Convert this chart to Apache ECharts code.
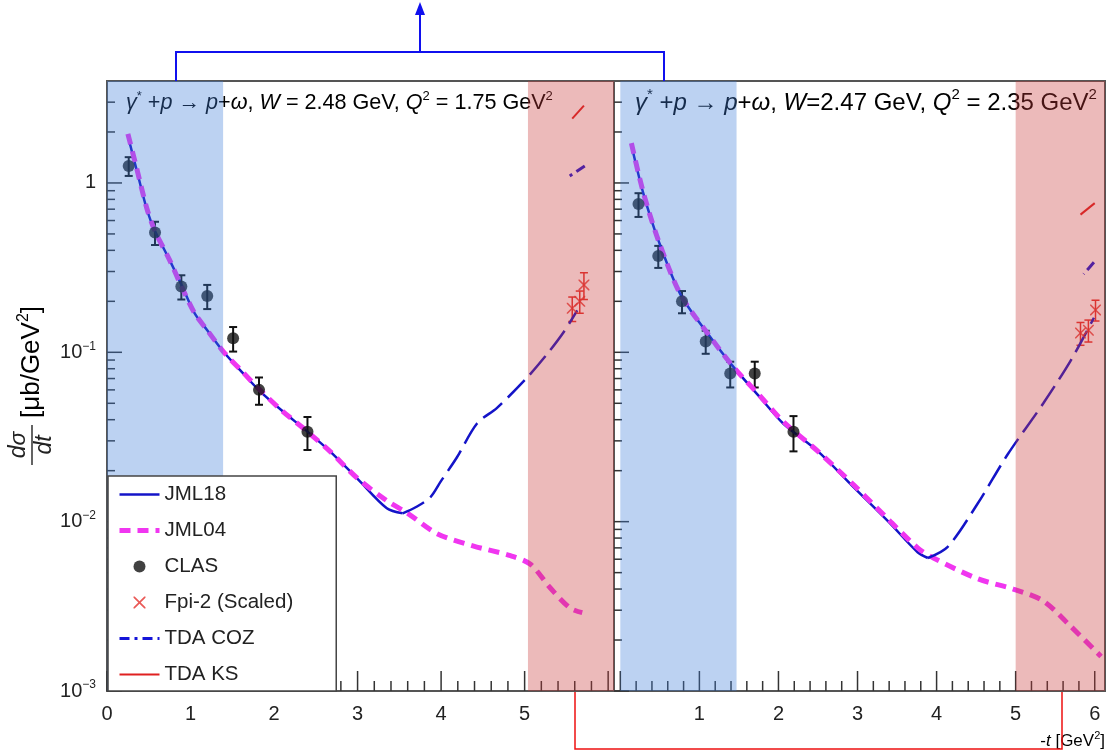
<!doctype html>
<html>
<head>
<meta charset="UTF-8">
<script src="https://cdn.jsdelivr.net/npm/echarts@6.0.0/dist/echarts.min.js"></script>
<style>
html, body { margin: 0; padding: 0; background: #fff; }
#main { width: 1108px; height: 754px; }
</style>
</head>
<body>
<div id="main"></div>
<script type="text/javascript">
// ---- values ----
// left panel: W = 2.48 GeV, Q2 = 1.75 GeV2
var clasLX   = [0.26, 0.575, 0.89, 1.20, 1.51, 1.82, 2.40];
var clasLY   = [1.26, 0.51, 0.245, 0.215, 0.121, 0.060, 0.034];
var clasLErr = [0.16, 0.08, 0.04, 0.035, 0.02, 0.011, 0.0075];

var jml18LX  = [0.25, 0.35, 0.48, 0.575, 0.75, 0.9, 1.05, 1.2, 1.4, 1.63, 1.83, 2.1, 2.4, 2.67, 3.0, 3.35, 3.54];
var jml18LY  = [1.9, 1.22, 0.69, 0.52, 0.35, 0.245, 0.17, 0.135, 0.10, 0.075, 0.059, 0.045, 0.034, 0.026, 0.0179, 0.012, 0.0112];
var jml18LX2 = [3.54, 3.7, 3.87, 4.0, 4.19, 4.43, 4.67, 5.03, 5.25, 5.46, 5.63];
var jml18LY2 = [0.0112, 0.0122, 0.0139, 0.0174, 0.024, 0.038, 0.047, 0.071, 0.095, 0.13, 0.177];

var jml04LX  = [0.25, 0.35, 0.48, 0.575, 0.75, 0.9, 1.05, 1.2, 1.4, 1.63, 1.83, 2.1, 2.4, 2.67, 3.0, 3.35, 3.6, 3.95, 4.38, 4.83, 5.07, 5.3, 5.54, 5.69];
var jml04LY  = [1.95, 1.25, 0.70, 0.52, 0.35, 0.24, 0.17, 0.135, 0.10, 0.076, 0.060, 0.045, 0.034, 0.026, 0.018, 0.0133, 0.0112, 0.0085, 0.0072, 0.0063, 0.0056, 0.0041, 0.0031, 0.0029];

var fpiLX    = [5.57, 5.66, 5.71];
var fpiLY    = [0.182, 0.20, 0.25];
var fpiLErr  = [0.03, 0.03, 0.045];

var cozLX    = [5.72, 5.54];
var cozLY    = [1.26, 1.10];
var ksLX     = [5.57, 5.71];
var ksLY     = [2.4, 2.86];

// right panel: W = 2.47 GeV, Q2 = 2.35 GeV2
var clasRX   = [0.23, 0.48, 0.78, 1.08, 1.39, 1.70, 2.19];
var clasRY   = [0.75, 0.37, 0.20, 0.116, 0.075, 0.075, 0.034];
var clasRErr = [0.12, 0.055, 0.03, 0.018, 0.013, 0.013, 0.008];

var jml18RX  = [0.14, 0.29, 0.48, 0.76, 1.10, 1.43, 1.77, 2.06, 2.5, 2.95, 3.4, 3.76, 3.89];
var jml18RY  = [1.68, 0.87, 0.46, 0.22, 0.13, 0.082, 0.054, 0.038, 0.026, 0.016, 0.0099, 0.0066, 0.0061];
var jml18RX2 = [3.89, 4.14, 4.52, 4.90, 5.35, 5.70, 5.99];
var jml18RY2 = [0.0061, 0.0071, 0.0128, 0.025, 0.05, 0.09, 0.16];

var jml04RX  = [0.14, 0.29, 0.48, 0.76, 1.10, 1.43, 1.77, 2.06, 2.5, 2.95, 3.4, 3.76, 3.96, 4.52, 4.97, 5.35, 5.70, 6.08];
var jml04RY  = [1.72, 0.88, 0.46, 0.22, 0.13, 0.082, 0.055, 0.039, 0.026, 0.0165, 0.0102, 0.0070, 0.0061, 0.0046, 0.0040, 0.0034, 0.0024, 0.0016];

var fpiRX    = [5.82, 5.92, 6.01];
var fpiRY    = [0.13, 0.135, 0.178];
var fpiRErr  = [0.02, 0.02, 0.025];

var cozRX    = [5.99, 5.86];
var cozRY    = [0.34, 0.29];
var ksRX     = [5.82, 6.0];
var ksRY     = [0.65, 0.76];

// shaded t ranges [from, to, colour index]
var bandsL = [[0, 1.39, 0], [5.04, 6.07, 1]];
var bandsR = [[0, 1.47, 0], [5.0, 6.13, 1]];

// axes
var xLabelsL = [0, 1, 2, 3, 4, 5];
var xLabelsR = [1, 2, 3, 4, 5, 6];
var Y_MIN = 0.001, Y_MAX = 4;
var yMajor = [0.001, 0.01, 0.1, 1];

var legendNames = ['JML18', 'JML04', 'CLAS', 'Fpi-2 (Scaled)', 'TDA COZ', 'TDA KS'];

var FONT = 'Liberation Sans';
var bandColors = ['rgba(63,126,218,0.35)', 'rgba(200,57,57,0.35)'];
var crossPath = 'path://M0,0L2,0L10,8L18,0L20,0L20,2L12,10L20,18L20,20L18,20L10,12L2,20L0,20L0,18L8,10L0,2Z';

var styles = {
    'JML18':   { color: '#1414c8', width: 2.5, type: 'solid' },
    'JML04':   { color: '#f036f0', width: 5, type: [11, 7] },
    'TDA COZ': { color: '#1414d8', width: 3, type: [10, 5, 3, 5] },
    'TDA KS':  { color: '#e02020', width: 2, type: 'solid' }
};

function zip(xs, ys, es) {
    return xs.map(function (x, i) { return es ? [x, ys[i], es[i]] : [x, ys[i]]; });
}

// tick lists (major decades + 2..9 minors, x every 0.2)
var yMinor = [];
for (var d = -3; d <= 0; d++) {
    for (var m = 2; m <= 9; m++) {
        var v = m * Math.pow(10, d);
        if (v < Y_MAX) yMinor.push(v);
    }
}
function xTicks(maxX) {
    var out = [];
    for (var k = 0; k * 0.2 <= maxX + 1e-9; k++) {
        out.push([k * 0.2, Y_MIN, (k % 5 === 0) ? 20 : 10]);
    }
    return out;
}
function yTicks(x0) {
    return yMajor.map(function (v) { return [x0, v, 15]; })
        .concat(yMinor.map(function (v) { return [x0, v, 8]; }));
}

function tickSeries(idx, data, vertical) {
    return {
        type: 'custom', xAxisIndex: idx, yAxisIndex: idx, silent: true, z: 1,
        data: data,
        renderItem: function (params, api) {
            var p = api.coord([api.value(0), api.value(1)]);
            var len = api.value(2);
            var shape = vertical
                ? { x1: p[0], y1: p[1], x2: p[0], y2: p[1] - len }
                : { x1: p[0], y1: p[1], x2: p[0] + len, y2: p[1] };
            return { type: 'line', shape: shape, style: { stroke: '#333', lineWidth: 1.5 } };
        }
    };
}

function bandSeries(idx, data) {
    return {
        type: 'custom', xAxisIndex: idx, yAxisIndex: idx, silent: true, z: 5,
        data: data,
        renderItem: function (params, api) {
            var a = api.coord([api.value(0), Y_MAX]);
            var b = api.coord([api.value(1), Y_MIN]);
            return {
                type: 'rect',
                shape: { x: a[0], y: a[1], width: b[0] - a[0], height: b[1] - a[1] },
                style: { fill: bandColors[api.value(2)] }
            };
        }
    };
}

function errSeries(idx, data, color, lw) {
    return {
        type: 'custom', xAxisIndex: idx, yAxisIndex: idx, silent: true, z: 2,
        data: data,
        renderItem: function (params, api) {
            var x = api.value(0), y = api.value(1), e = api.value(2);
            var lo = api.coord([x, y - e]), hi = api.coord([x, y + e]);
            var st = { stroke: color, lineWidth: lw };
            return {
                type: 'group', children: [
                    { type: 'line', shape: { x1: lo[0], y1: lo[1], x2: hi[0], y2: hi[1] }, style: st },
                    { type: 'line', shape: { x1: lo[0] - 4, y1: lo[1], x2: lo[0] + 4, y2: lo[1] }, style: st },
                    { type: 'line', shape: { x1: hi[0] - 4, y1: hi[1], x2: hi[0] + 4, y2: hi[1] }, style: st }
                ]
            };
        }
    };
}

function lineSeries(name, idx, data, dashOverride) {
    var s = styles[name];
    return {
        name: name, type: 'line', xAxisIndex: idx, yAxisIndex: idx,
        data: data, showSymbol: false, symbol: 'none', smooth: 0.3, z: 2,
        lineStyle: { color: s.color, width: s.width, type: dashOverride || s.type },
        itemStyle: { color: s.color }
    };
}

function panelSeries(idx, d) {
    return [
        lineSeries('JML18', idx, d.j18),
        lineSeries('JML04', idx, d.j04),
        {
            name: 'CLAS', type: 'scatter', xAxisIndex: idx, yAxisIndex: idx, z: 3,
            data: d.clas, symbol: 'circle', symbolSize: 12, itemStyle: { color: '#111' }
        },
        {
            name: 'Fpi-2 (Scaled)', type: 'scatter', xAxisIndex: idx, yAxisIndex: idx, z: 3,
            data: d.fpi, symbol: crossPath, symbolSize: 11, itemStyle: { color: '#e5302c' }
        },
        lineSeries('TDA COZ', idx, d.coz),
        lineSeries('TDA KS', idx, d.ks),
        lineSeries('JML18', idx, d.j18b, [24, 8]),
        errSeries(idx, d.clasErr, '#111', 2),
        errSeries(idx, d.fpiErr, '#e5302c', 1.5),
        bandSeries(idx, d.bands)
    ];
}

var leftData = {
    j18: zip(jml18LX, jml18LY), j18b: zip(jml18LX2, jml18LY2), j04: zip(jml04LX, jml04LY),
    clas: zip(clasLX, clasLY), clasErr: zip(clasLX, clasLY, clasLErr),
    fpi: zip(fpiLX, fpiLY), fpiErr: zip(fpiLX, fpiLY, fpiLErr),
    coz: zip(cozLX, cozLY), ks: zip(ksLX, ksLY), bands: bandsL
};
var rightData = {
    j18: zip(jml18RX, jml18RY), j18b: zip(jml18RX2, jml18RY2), j04: zip(jml04RX, jml04RY),
    clas: zip(clasRX, clasRY), clasErr: zip(clasRX, clasRY, clasRErr),
    fpi: zip(fpiRX, fpiRY), fpiErr: zip(fpiRX, fpiRY, fpiRErr),
    coz: zip(cozRX, cozRY), ks: zip(ksRX, ksRY), bands: bandsR
};

function richSet(size) {
    var base = { fontFamily: FONT, fontSize: size, color: '#222' };
    var small = Math.round(size * 0.62);
    return {
        n: base,
        i: { fontFamily: FONT, fontSize: size, color: '#222', fontStyle: 'italic' },
        b: base,
        s: { fontFamily: FONT, fontSize: small, color: '#222', padding: [0, 0, Math.round(size * 0.6), 0] },
        sup: { fontFamily: FONT, fontSize: small, color: '#222', padding: [0, 0, Math.round(size * 0.65), 0] }
    };
}
var richTick = richSet(20);
var richTitleL = richSet(21.6);
var richTitleR = richSet(24);
var richAxis = richSet(26);
var richX = richSet(17);

function yLabel(v) {
    var lg = Math.log10(v), e = Math.round(lg);
    if (Math.abs(lg - e) > 1e-6) return '';
    if (e === 0) return '{b|1}';
    return '{b|10}{s|\u2212' + (-e) + '}';
}

function xAxisCfg(idx, min, max, labels) {
    return {
        gridIndex: idx, type: 'value', min: min, max: max,
        axisLine: { show: false }, axisTick: { show: false }, splitLine: { show: false },
        axisLabel: { customValues: labels, margin: 13, fontFamily: FONT, fontSize: 20, color: '#222' }
    };
}
function yAxisCfg(idx, show) {
    return {
        gridIndex: idx, type: 'log', logBase: 10, min: Y_MIN, max: Y_MAX,
        axisLine: { show: false }, axisTick: { show: false }, splitLine: { show: false },
        axisLabel: { show: show, margin: 11, formatter: yLabel, rich: richTick, fontFamily: FONT, fontSize: 20, color: '#222' }
    };
}

var titleL = '{i|\u03b3}{sup|*}{n| +}{i|p}{n| \u2192 }{i|p}{n|+}{i|\u03c9}{n|, }{i|W}{n| = 2.48 GeV, }{i|Q}{sup|2}{n| = 1.75 GeV}{sup|2}';
var titleR = '{i|\u03b3}{sup|*}{n| +}{i|p}{n| \u2192 }{i|p}{n|+}{i|\u03c9}{n|, }{i|W}{n|=2.47 GeV, }{i|Q}{sup|2}{n| = 2.35 GeV}{sup|2}';

var myChart = echarts.init(document.getElementById('main'));
var option = {
    animation: false,
    backgroundColor: '#fff',
    grid: [
        { left: 107, top: 81, width: 507, height: 610, show: true, borderColor: '#555', borderWidth: 2 },
        { left: 614, top: 81, width: 491, height: 610, show: true, borderColor: '#555', borderWidth: 2 }
    ],
    xAxis: [
        xAxisCfg(0, 0, 6.07, xLabelsL),
        xAxisCfg(1, -0.08, 6.13, xLabelsR)
    ],
    yAxis: [yAxisCfg(0, true), yAxisCfg(1, false)],
    legend: {
        data: legendNames.map(function (n) {
            var item = { name: n };
            if (styles[n]) {
                item.itemStyle = { opacity: 0 };
                item.lineStyle = { width: styles[n].width, type: styles[n].type, color: styles[n].color };
            }
            return item;
        }),
        orient: 'vertical', left: 108, top: 476,
        padding: [8, 43, 6, 9], itemWidth: 40, itemHeight: 12, itemGap: 15,
        backgroundColor: '#fff', borderColor: '#444', borderWidth: 1.5,
        selectedMode: false, z: 10,
        textStyle: { fontFamily: FONT, fontSize: 20.5, color: '#222' }
    },
    series: [].concat(
        panelSeries(0, leftData),
        panelSeries(1, rightData),
        [tickSeries(0, yTicks(0), false), tickSeries(1, yTicks(-0.08), false),
         tickSeries(0, xTicks(6.07), true), tickSeries(1, xTicks(6.13), true)]
    ),
    graphic: [
        { type: 'text', x: 126, y: 103, z: 1, style: { text: titleL, rich: richTitleL, verticalAlign: 'middle' } },
        { type: 'text', x: 635, y: 103, z: 1, style: { text: titleR, rich: richTitleR, verticalAlign: 'middle' } },
        { type: 'text', x: 1105, y: 741, z: 1, style: { text: '{n|-}{i|t}{n| [GeV}{sup|2}{n|]}', rich: richX, align: 'right', verticalAlign: 'middle' } },
        {
            type: 'group', x: 31, y: 395, rotation: Math.PI / 2, z: 1,
            children: [
                { type: 'text', x: -50, y: -12, style: { text: 'd\u03c3', fontFamily: FONT, fontSize: 23, fontStyle: 'italic', fill: '#222', align: 'center', verticalAlign: 'middle' } },
                { type: 'line', shape: { x1: -70, y1: 1, x2: -30, y2: 1 }, style: { stroke: '#222', lineWidth: 1.4 } },
                { type: 'text', x: -50, y: 14, style: { text: 'dt', fontFamily: FONT, fontSize: 23, fontStyle: 'italic', fill: '#222', align: 'center', verticalAlign: 'middle' } },
                { type: 'text', x: -23, y: 1, style: { text: '{n|[\u03bcb/GeV}{sup|2}{n|]}', rich: richAxis, align: 'left', verticalAlign: 'middle' } }
            ]
        },
        // blue bracket with arrow
        { type: 'polyline', z: 20, shape: { points: [[176, 81], [176, 52], [664, 52], [664, 81]] }, style: { stroke: '#1010ee', lineWidth: 2, fill: null } },
        { type: 'line', z: 20, shape: { x1: 420, y1: 52, x2: 420, y2: 12 }, style: { stroke: '#1010ee', lineWidth: 2 } },
        { type: 'polygon', z: 20, shape: { points: [[420, 2], [415, 15], [425, 15]] }, style: { fill: '#1010ee' } },
        // red bracket
        { type: 'polyline', z: 20, shape: { points: [[575, 692], [575, 749], [1062, 749], [1062, 692]] }, style: { stroke: '#ee1010', lineWidth: 1.5, fill: null } }
    ]
};
myChart.setOption(option);
</script>
</body>
</html>
